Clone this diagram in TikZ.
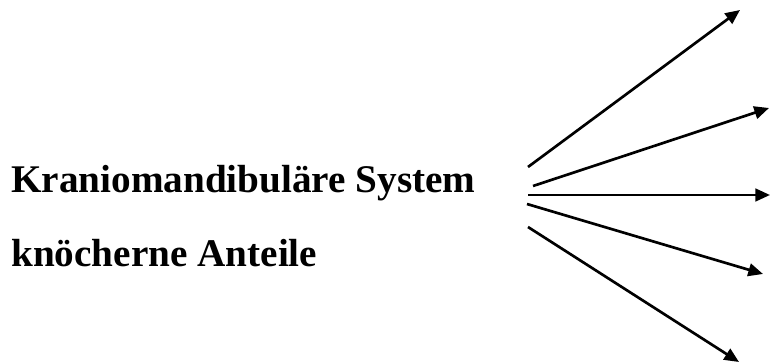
\documentclass[tikz,border=0pt]{standalone}
\usepackage{fontspec}
\setmainfont{Liberation Serif}
\usetikzlibrary{arrows.meta}
\begin{document}
\begin{tikzpicture}[x=0.75pt,y=-0.75pt,
  label/.style={anchor=base west,inner sep=0pt,font=\fontsize{29.4}{34}\selectfont\bfseries},
  ray/.style={line width=2pt,-{Triangle[length=11pt,width=9.5pt]}}]
  \useasboundingbox (0,0) rectangle (770,363);
  % the two text lines
  \node[label] (sys) at (11,193) {Kraniomandibuläre System};
  \node[label] (bone) at (11,266) {knöcherne Anteile};
  % start and end points of the fan of arrows
  \coordinate (s1) at (528,167);
  \coordinate (s2) at (533,186);
  \coordinate (s3) at (528,195);
  \coordinate (s4) at (527,204);
  \coordinate (s5) at (528,227);
  \coordinate (e1) at (740,10);
  \coordinate (e2) at (769,108);
  \coordinate (e3) at (770,195);
  \coordinate (e4) at (763,274);
  \coordinate (e5) at (739,362);
  \foreach \i in {1,...,5} \draw[ray] (s\i) -- (e\i);
\end{tikzpicture}
\end{document}
